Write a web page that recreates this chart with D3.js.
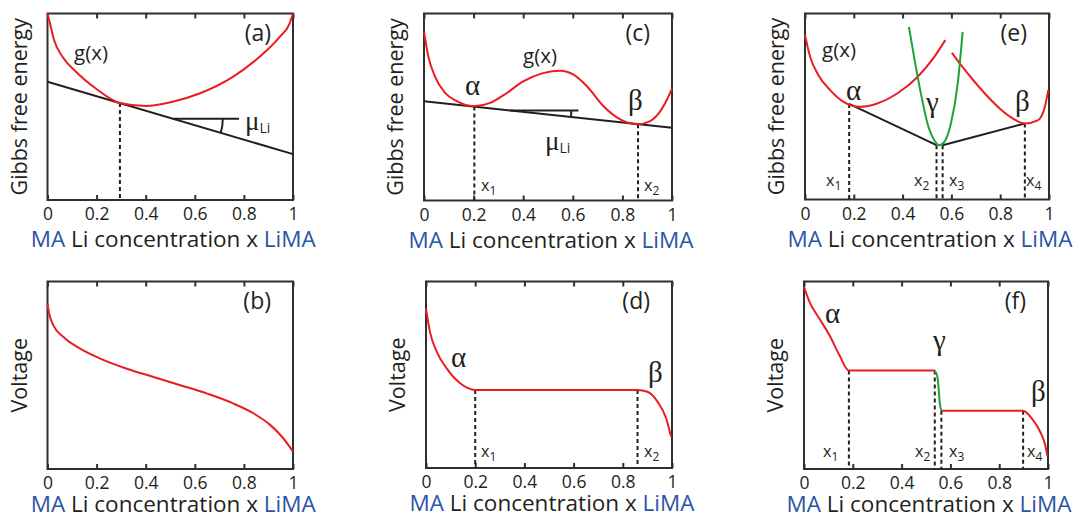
<!DOCTYPE html>
<html><head><meta charset="utf-8">
<script src="https://cdn.jsdelivr.net/npm/d3@7"></script>
<style>body{margin:0;background:#fff}svg{display:block}</style>
</head><body><svg id="c" width="1076" height="515"></svg>
<script>
// ---------------- DATA ----------------
const xTicks = [0, 0.2, 0.4, 0.6, 0.8, 1];
const xTickLabels = ["0", "0.2", "0.4", "0.6", "0.8", "1"];

// (a) single-phase free energy
const gA = [[0,1.0],[0.007,0.964],[0.027,0.857],[0.061,0.768],[0.116,0.688],[0.197,0.598],[0.295,0.52],[0.40,0.504],[0.51,0.527],[0.619,0.571],[0.755,0.66],[0.864,0.768],[0.946,0.875],[0.986,0.946],[1.0,1.0]];
const tangentA = [[0,0.634],[1,0.246]];
const dashA = [[0.295,0.52]];
const muA = [0.51, 0.78];

// (b) voltage, solid solution
const vB = [[0,0.881],[0.007,0.828],[0.024,0.766],[0.065,0.704],[0.133,0.642],[0.215,0.589],[0.323,0.535],[0.432,0.491],[0.541,0.447],[0.65,0.402],[0.758,0.349],[0.84,0.296],[0.908,0.234],[0.955,0.172],[0.986,0.119],[1.0,0.092]];

// (c) two-phase free energy
const gC = [[0,0.903],[0.0175,0.77],[0.044,0.664],[0.085,0.575],[0.132,0.531],[0.2,0.504],[0.267,0.522],[0.334,0.575],[0.40,0.637],[0.48,0.681],[0.549,0.694],[0.603,0.673],[0.657,0.611],[0.724,0.504],[0.791,0.434],[0.862,0.408],[0.912,0.425],[0.953,0.478],[0.98,0.54],[1.0,0.60]];
const tangentC = [[0,0.531],[1,0.389]];
const dashC = [[0.203,0.503],[0.863,0.408]];
const muC = [0.347, 0.594, 0.623];

// (d) voltage, two-phase plateau
const vD = [[0,0.854],[0.016,0.73],[0.044,0.623],[0.084,0.534],[0.139,0.454],[0.2,0.418],[0.86,0.418],[0.90,0.409],[0.941,0.356],[0.976,0.267],[0.996,0.169]];
const dashD = [[0.2,0.418],[0.86,0.418]];

// (e) three-phase free energy
const gEalpha = [[0,0.884],[0.021,0.767],[0.055,0.668],[0.103,0.588],[0.158,0.525],[0.227,0.498],[0.296,0.516],[0.378,0.570],[0.461,0.659],[0.53,0.767],[0.575,0.857]];
const gEbeta = [[0.602,0.789],[0.64,0.722],[0.695,0.633],[0.763,0.534],[0.832,0.453],[0.901,0.409],[0.956,0.427],[0.983,0.498],[0.997,0.588]];
const gEgamma = [[0.426,0.928],[0.447,0.767],[0.475,0.570],[0.502,0.409],[0.53,0.319],[0.55,0.292],[0.571,0.31],[0.598,0.409],[0.626,0.624],[0.646,0.901]];
const tangentE1 = [[0.181,0.514],[0.539,0.292]];
const tangentE2 = [[0.564,0.292],[0.901,0.409]];
const dashE = [[0.181,0.514],[0.539,0.292],[0.564,0.292],[0.901,0.409]];

// (f) voltage, three phases
const vFred1 = [[0,0.97],[0.023,0.89],[0.064,0.80],[0.105,0.712],[0.146,0.605],[0.184,0.525],[0.536,0.525]];
const vFgreen = [[0.536,0.525],[0.547,0.489],[0.552,0.427],[0.556,0.356],[0.563,0.311]];
const vFred2 = [[0.563,0.311],[0.898,0.311],[0.935,0.267],[0.969,0.196],[0.989,0.125],[0.997,0.071]];
const dashF = [[0.184,0.525],[0.536,0.525],[0.563,0.311],[0.898,0.311]];

// ---------------- STYLE / LAYOUT ----------------
const FONT = '"Open Sans", sans-serif';
const GREEK = '"Liberation Serif", serif';
const RED = "#ec1c24", GREEN = "#1ea339", BLUE = "#2b55a6", INK = "#231f20", FRAME = "#2f2f2f";
const svg = d3.select("#c");

const layout = {
  a: {l:47.5, t:13.5, r:293, b:200, tag:"(a)", ytitle:"Gibbs free energy", tOff:47},
  c: {l:424, t:13.5, r:672, b:200.5, tag:"(c)", ytitle:"Gibbs free energy", tOff:47},
  e: {l:805, t:13.5, r:1049, b:199.5, tag:"(e)", ytitle:"Gibbs free energy", tOff:47},
  b: {l:47.5, t:281.5, r:293, b:469, tag:"(b)", ytitle:"Voltage", tOff:43},
  d: {l:426, t:281.5, r:672, b:468, tag:"(d)", ytitle:"Voltage", tOff:43},
  f: {l:804, t:281.5, r:1048, b:469, tag:"(f)", ytitle:"Voltage", tOff:43}
};

function makePanel(L){
  const x = d3.scaleLinear().domain([0,1]).range([L.l, L.r]);
  const y = d3.scaleLinear().domain([0,1]).range([L.b, L.t]);
  const g = svg.append("g");
  g.append("g").attr("transform",`translate(0,${L.b})`)
    .call(d3.axisBottom(x).tickValues(xTicks).tickFormat((d,i)=>xTickLabels[i]).tickSizeInner(-5).tickSizeOuter(0).tickPadding(8))
    .call(s=>{s.select(".domain").remove();
      s.selectAll("line").attr("stroke",FRAME).attr("stroke-width",2);
      s.selectAll("text").attr("font-family",FONT).attr("font-size",17.5).attr("fill",INK);});
  g.append("g").attr("transform",`translate(0,${L.t})`)
    .call(d3.axisTop(x).tickValues(xTicks).tickFormat("").tickSizeInner(-5).tickSizeOuter(0))
    .call(s=>{s.select(".domain").remove();
      s.selectAll("line").attr("stroke",FRAME).attr("stroke-width",2);});
  g.append("rect").attr("x",L.l).attr("y",L.t).attr("width",L.r-L.l).attr("height",L.b-L.t)
    .attr("fill","none").attr("stroke",FRAME).attr("stroke-width",2);
  const t = g.append("text").attr("x",(L.l+L.r)/2+3).attr("y",L.b+L.tOff)
    .attr("text-anchor","middle").attr("font-family",FONT).attr("font-size",22.5);
  t.append("tspan").attr("fill",BLUE).text("MA");
  t.append("tspan").attr("fill",INK).text(" Li concentration x ");
  t.append("tspan").attr("fill",BLUE).text("LiMA");
  g.append("text").attr("transform",`translate(${L.l-21},${(L.t+L.b)/2}) rotate(-90)`)
    .attr("text-anchor","middle").attr("font-family",FONT).attr("font-size",21.5).attr("fill",INK).text(L.ytitle);
  g.append("text").attr("x",L.r-22).attr("y",L.t+27).attr("text-anchor","end")
    .attr("font-family",FONT).attr("font-size",23).attr("fill",INK).text(L.tag);
  return {x,y,g};
}

function curve(P, data, color){
  const line = d3.line().x(d=>P.x(d[0])).y(d=>P.y(d[1])).curve(d3.curveMonotoneX);
  P.g.append("path").datum(data).attr("d",line).attr("fill","none").attr("stroke",color).attr("stroke-width",2);
}
function straight(P, data){
  const line = d3.line().x(d=>P.x(d[0])).y(d=>P.y(d[1]));
  P.g.append("path").datum(data).attr("d",line).attr("fill","none").attr("stroke",INK).attr("stroke-width",2);
}
function dashes(P, data){
  P.g.selectAll(null).data(data).join("line")
    .attr("x1",d=>P.x(d[0])).attr("x2",d=>P.x(d[0]))
    .attr("y1",d=>P.y(d[1])).attr("y2",P.y(0))
    .attr("stroke",INK).attr("stroke-width",2).attr("stroke-dasharray","4,3");
}
function lineY(seg, xv){
  const [p0,p1] = seg; return p0[1] + (p1[1]-p0[1])*(xv-p0[0])/(p1[0]-p0[0]);
}
function angleMark(P, seg, x0, xArc, xEnd){
  const cx = P.x(x0), cy = P.y(lineY(seg, x0));
  P.g.append("line").attr("x1",cx).attr("x2",P.x(xEnd)).attr("y1",cy).attr("y2",cy).attr("stroke",INK).attr("stroke-width",2);
  const ang = Math.atan2(P.y(seg[1][1])-P.y(seg[0][1]), P.x(seg[1][0])-P.x(seg[0][0]));
  const r = P.x(xArc) - cx;
  P.g.append("path").attr("d",`M${cx+r},${cy} A${r},${r} 0 0 1 ${cx+r*Math.cos(ang)},${cy+r*Math.sin(ang)}`)
    .attr("fill","none").attr("stroke",INK).attr("stroke-width",2);
}
function txt(P, x, y, s, size, fam){
  return P.g.append("text").attr("x",x).attr("y",y).attr("font-family",fam||FONT).attr("font-size",size).attr("fill",INK).text(s);
}
function sub(P, x, y, main, s, mainSize, subSize, fam, dy){
  const t = P.g.append("text").attr("x",x).attr("y",y).attr("fill",INK);
  t.append("tspan").attr("font-family",fam||FONT).attr("font-size",mainSize).text(main);
  t.append("tspan").attr("font-family",FONT).attr("font-size",subSize).attr("dy",dy).text(s);
}

// ---------------- PANELS ----------------
// (a)
const A = makePanel(layout.a);
straight(A, tangentA);
dashes(A, dashA);
angleMark(A, tangentA, muA[0], 0.714, muA[1]);
curve(A, gA, RED);
txt(A, 74, 60, "g(x)", 20.5);
sub(A, 245, 130, "μ", "Li", 27, 14, GREEK, 3);

// (b)
const B = makePanel(layout.b);
curve(B, vB, RED);

// (c)
const C = makePanel(layout.c);
straight(C, tangentC);
dashes(C, dashC);
angleMark(C, tangentC, muC[0], muC[1], muC[2]);
curve(C, gC, RED);
txt(C, 523, 63, "g(x)", 20.5);
txt(C, 465, 95, "α", 29, GREEK);
txt(C, 628, 110, "β", 29, GREEK);
sub(C, 545, 150, "μ", "Li", 27, 14, GREEK, 3);
sub(C, 481, 191, "x", "1", 16, 12, FONT, 4);
sub(C, 644, 191, "x", "2", 16, 12, FONT, 4);

// (d)
const D = makePanel(layout.d);
dashes(D, dashD);
curve(D, vD, RED);
txt(D, 451, 367, "α", 29, GREEK);
txt(D, 648, 382, "β", 29, GREEK);
sub(D, 481, 457, "x", "1", 16, 12, FONT, 4);
sub(D, 644, 457, "x", "2", 16, 12, FONT, 4);

// (e)
const E = makePanel(layout.e);
straight(E, tangentE1);
straight(E, tangentE2);
dashes(E, dashE);
curve(E, gEalpha, RED);
curve(E, gEbeta, RED);
curve(E, gEgamma, GREEN);
txt(E, 822, 57, "g(x)", 20.5);
txt(E, 846, 100, "α", 29, GREEK);
txt(E, 926, 112, "γ", 29, GREEK);
txt(E, 1015, 111, "β", 29, GREEK);
sub(E, 826, 186, "x", "1", 16, 12, FONT, 4);
sub(E, 914, 186, "x", "2", 16, 12, FONT, 4);
sub(E, 949, 186, "x", "3", 16, 12, FONT, 4);
sub(E, 1026, 186, "x", "4", 16, 12, FONT, 4);

// (f)
const F = makePanel(layout.f);
dashes(F, dashF);
curve(F, vFred1, RED);
curve(F, vFred2, RED);
curve(F, vFgreen, GREEN);
txt(F, 825, 323, "α", 29, GREEK);
txt(F, 933, 350, "γ", 29, GREEK);
txt(F, 1031, 401, "β", 29, GREEK);
sub(F, 823, 457, "x", "1", 16, 12, FONT, 4);
sub(F, 915, 457, "x", "2", 16, 12, FONT, 4);
sub(F, 949, 457, "x", "3", 16, 12, FONT, 4);
sub(F, 1027, 457, "x", "4", 16, 12, FONT, 4);
</script></body></html>
